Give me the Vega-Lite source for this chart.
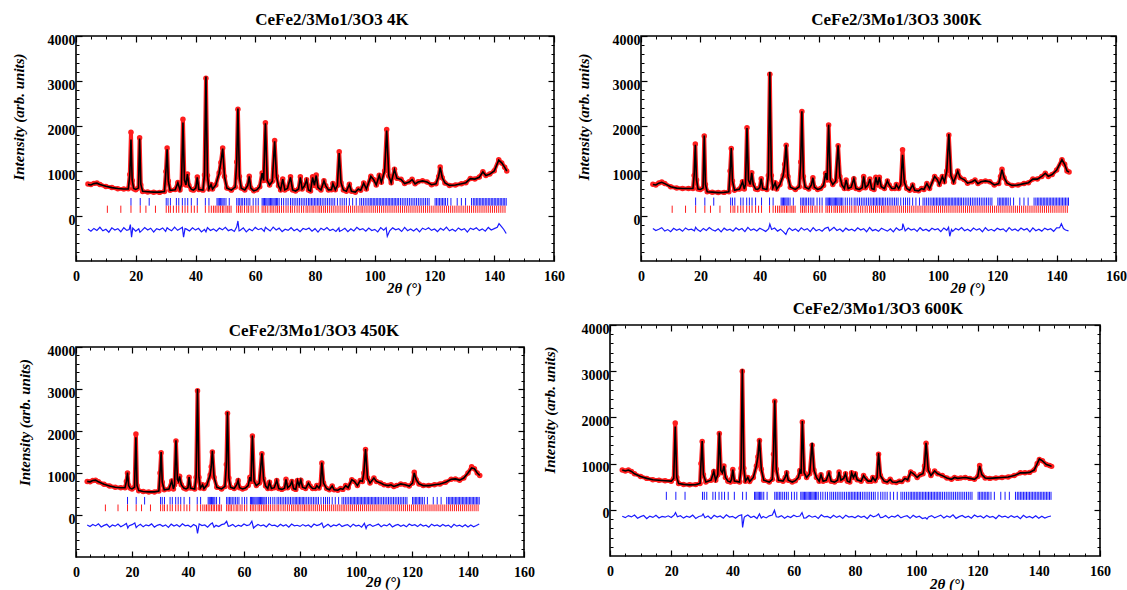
{
"$schema":"https://vega.github.io/schema/vega-lite/v6.json",
"background":"white",
"padding":{"left":10,"top":10,"right":5,"bottom":5},
"config":{"view":{"stroke":"black","strokeWidth":1.6},"font":"Liberation Serif"},
"datasets":{
"p4":[{"x":4,"o":710,"c":700},{"x":5,"o":700,"c":690},{"x":6,"o":725,"c":720},{"x":7,"o":735,"c":730},{"x":8,"o":700,"c":700},{"x":10,"o":655,"c":660},{"x":12,"o":635,"c":630},{"x":14,"o":605,"c":610},{"x":16,"o":600,"c":600},{"x":17.5,"o":605,"c":600},{"x":18,"o":920,"c":900},{"x":18.4,"o":1860,"c":1700},{"x":18.8,"o":790,"c":800},{"x":19.3,"o":605,"c":610},{"x":20,"o":585,"c":590},{"x":20.9,"o":620,"c":620},{"x":21.3,"o":1740,"c":1720},{"x":21.7,"o":690,"c":700},{"x":22.3,"o":545,"c":550},{"x":24,"o":535,"c":540},{"x":26,"o":530,"c":530},{"x":28,"o":525,"c":530},{"x":29.6,"o":545,"c":545},{"x":30.1,"o":990,"c":1000},{"x":30.5,"o":1510,"c":1480},{"x":30.9,"o":780,"c":780},{"x":31.5,"o":570,"c":570},{"x":33.2,"o":590,"c":585},{"x":34.1,"o":745,"c":740},{"x":34.8,"o":580,"c":580},{"x":35.3,"o":700,"c":700},{"x":35.8,"o":2150,"c":2080},{"x":36.3,"o":800,"c":800},{"x":36.8,"o":690,"c":690},{"x":37.3,"o":935,"c":930},{"x":37.8,"o":680,"c":680},{"x":38.6,"o":590,"c":590},{"x":39.3,"o":575,"c":575},{"x":40.1,"o":620,"c":620},{"x":40.6,"o":865,"c":860},{"x":41.1,"o":590,"c":590},{"x":42.5,"o":575,"c":575},{"x":43,"o":910,"c":900},{"x":43.5,"o":3060,"c":3100},{"x":44,"o":900,"c":900},{"x":44.5,"o":600,"c":600},{"x":45.2,"o":700,"c":700},{"x":45.7,"o":600,"c":600},{"x":46.8,"o":690,"c":690},{"x":47.9,"o":955,"c":950},{"x":48.5,"o":1190,"c":1200},{"x":49.1,"o":1510,"c":1500},{"x":49.7,"o":880,"c":880},{"x":50.5,"o":620,"c":620},{"x":52,"o":575,"c":575},{"x":53.3,"o":645,"c":640},{"x":53.8,"o":1200,"c":1200},{"x":54.2,"o":2370,"c":2390},{"x":54.7,"o":880,"c":880},{"x":55.3,"o":620,"c":620},{"x":56.5,"o":580,"c":580},{"x":57.5,"o":680,"c":680},{"x":58,"o":885,"c":880},{"x":58.5,"o":620,"c":620},{"x":59.5,"o":560,"c":560},{"x":60.5,"o":585,"c":580},{"x":61.5,"o":650,"c":650},{"x":62.3,"o":955,"c":950},{"x":62.8,"o":790,"c":790},{"x":63.4,"o":2070,"c":2060},{"x":64,"o":790,"c":790},{"x":64.8,"o":690,"c":690},{"x":65.7,"o":770,"c":770},{"x":66.5,"o":1680,"c":1660},{"x":67.1,"o":880,"c":880},{"x":67.8,"o":670,"c":670},{"x":68.5,"o":580,"c":580},{"x":69.2,"o":825,"c":820},{"x":69.9,"o":580,"c":580},{"x":70.8,"o":610,"c":610},{"x":71.8,"o":870,"c":860},{"x":72.5,"o":580,"c":580},{"x":73.5,"o":555,"c":555},{"x":74.5,"o":600,"c":600},{"x":75.1,"o":870,"c":860},{"x":75.7,"o":600,"c":600},{"x":76.5,"o":670,"c":670},{"x":77.2,"o":805,"c":800},{"x":77.8,"o":580,"c":580},{"x":78.5,"o":555,"c":555},{"x":79.2,"o":870,"c":860},{"x":79.8,"o":680,"c":680},{"x":80.4,"o":910,"c":900},{"x":81,"o":630,"c":630},{"x":82,"o":580,"c":580},{"x":83,"o":785,"c":780},{"x":83.6,"o":670,"c":670},{"x":84.5,"o":580,"c":580},{"x":85.5,"o":585,"c":585},{"x":86,"o":725,"c":720},{"x":86.8,"o":585,"c":585},{"x":87.5,"o":680,"c":680},{"x":88.1,"o":1430,"c":1400},{"x":88.7,"o":740,"c":740},{"x":89.5,"o":580,"c":580},{"x":90.5,"o":550,"c":550},{"x":91.5,"o":705,"c":700},{"x":92.2,"o":550,"c":550},{"x":93.5,"o":530,"c":530},{"x":94.5,"o":600,"c":600},{"x":95.3,"o":570,"c":570},{"x":96.3,"o":735,"c":730},{"x":97.2,"o":600,"c":600},{"x":98.7,"o":885,"c":880},{"x":99.6,"o":810,"c":810},{"x":100.5,"o":690,"c":690},{"x":101.5,"o":905,"c":900},{"x":102.2,"o":750,"c":750},{"x":103.3,"o":1000,"c":1000},{"x":104,"o":1920,"c":1900},{"x":104.7,"o":890,"c":890},{"x":105.5,"o":740,"c":740},{"x":106.6,"o":1040,"c":1030},{"x":107.4,"o":840,"c":840},{"x":108.8,"o":815,"c":810},{"x":110,"o":720,"c":720},{"x":111.5,"o":760,"c":755},{"x":112.5,"o":815,"c":810},{"x":113.5,"o":715,"c":715},{"x":114.5,"o":760,"c":755},{"x":116,"o":785,"c":780},{"x":117.5,"o":755,"c":755},{"x":119,"o":695,"c":695},{"x":120.5,"o":715,"c":715},{"x":121.4,"o":880,"c":880},{"x":121.9,"o":1090,"c":1080},{"x":122.6,"o":850,"c":850},{"x":123.5,"o":735,"c":735},{"x":125,"o":680,"c":680},{"x":127,"o":690,"c":690},{"x":129,"o":715,"c":715},{"x":130.5,"o":740,"c":740},{"x":132,"o":835,"c":830},{"x":133.5,"o":820,"c":820},{"x":135,"o":865,"c":860},{"x":136.2,"o":985,"c":980},{"x":137.2,"o":900,"c":900},{"x":138.5,"o":935,"c":930},{"x":140,"o":1005,"c":1000},{"x":141.5,"o":1250,"c":1240},{"x":142.5,"o":1180,"c":1180},{"x":143.5,"o":1085,"c":1080},{"x":144.2,"o":1000,"c":1000}],
"p300":[{"x":4,"o":705,"c":700},{"x":5,"o":690,"c":690},{"x":6,"o":735,"c":730},{"x":7,"o":755,"c":750},{"x":8,"o":720,"c":720},{"x":10,"o":650,"c":650},{"x":12,"o":620,"c":620},{"x":14,"o":610,"c":610},{"x":16,"o":610,"c":610},{"x":17.5,"o":610,"c":610},{"x":17.9,"o":900,"c":900},{"x":18.3,"o":1600,"c":1580},{"x":18.7,"o":800,"c":800},{"x":19.2,"o":600,"c":600},{"x":20,"o":590,"c":590},{"x":20.9,"o":620,"c":620},{"x":21.3,"o":1780,"c":1790},{"x":21.7,"o":700,"c":700},{"x":22.3,"o":540,"c":540},{"x":24,"o":530,"c":530},{"x":26,"o":520,"c":520},{"x":28,"o":525,"c":525},{"x":29.6,"o":540,"c":540},{"x":30,"o":1000,"c":1000},{"x":30.4,"o":1500,"c":1510},{"x":30.8,"o":780,"c":780},{"x":31.5,"o":570,"c":570},{"x":33.2,"o":600,"c":600},{"x":34.2,"o":760,"c":760},{"x":34.8,"o":600,"c":600},{"x":35.2,"o":700,"c":700},{"x":35.7,"o":1960,"c":1955},{"x":36.2,"o":800,"c":800},{"x":36.8,"o":700,"c":700},{"x":37.3,"o":960,"c":960},{"x":37.8,"o":700,"c":700},{"x":38.6,"o":600,"c":600},{"x":39.3,"o":590,"c":590},{"x":40,"o":630,"c":630},{"x":40.5,"o":830,"c":830},{"x":41,"o":610,"c":610},{"x":42.4,"o":590,"c":590},{"x":42.9,"o":900,"c":900},{"x":43.4,"o":3150,"c":3200},{"x":43.9,"o":900,"c":900},{"x":44.4,"o":620,"c":620},{"x":45.2,"o":740,"c":740},{"x":45.7,"o":600,"c":600},{"x":46.8,"o":700,"c":700},{"x":47.9,"o":900,"c":900},{"x":48.4,"o":1150,"c":1150},{"x":48.9,"o":1570,"c":1580},{"x":49.5,"o":880,"c":880},{"x":50.3,"o":640,"c":640},{"x":52,"o":590,"c":590},{"x":53.3,"o":650,"c":650},{"x":53.8,"o":1200,"c":1200},{"x":54.2,"o":2320,"c":2330},{"x":54.7,"o":880,"c":880},{"x":55.3,"o":640,"c":640},{"x":56.5,"o":600,"c":600},{"x":57.4,"o":690,"c":690},{"x":57.9,"o":850,"c":850},{"x":58.4,"o":640,"c":640},{"x":59.5,"o":590,"c":590},{"x":60.5,"o":610,"c":610},{"x":61.5,"o":680,"c":680},{"x":62.2,"o":950,"c":950},{"x":62.7,"o":800,"c":800},{"x":63.2,"o":2020,"c":2030},{"x":63.8,"o":800,"c":800},{"x":64.6,"o":700,"c":700},{"x":65.6,"o":780,"c":780},{"x":66.4,"o":1560,"c":1570},{"x":67,"o":880,"c":880},{"x":67.7,"o":690,"c":690},{"x":68.5,"o":610,"c":610},{"x":69.1,"o":800,"c":800},{"x":69.8,"o":610,"c":610},{"x":70.8,"o":640,"c":640},{"x":71.7,"o":830,"c":830},{"x":72.4,"o":610,"c":610},{"x":73.5,"o":590,"c":590},{"x":74.5,"o":630,"c":630},{"x":75,"o":880,"c":880},{"x":75.6,"o":630,"c":630},{"x":76.5,"o":690,"c":690},{"x":77.1,"o":820,"c":820},{"x":77.7,"o":610,"c":610},{"x":78.5,"o":590,"c":590},{"x":79.1,"o":860,"c":860},{"x":79.7,"o":690,"c":690},{"x":80.3,"o":860,"c":860},{"x":80.9,"o":650,"c":650},{"x":82,"o":610,"c":610},{"x":83,"o":780,"c":780},{"x":83.6,"o":690,"c":690},{"x":84.5,"o":610,"c":610},{"x":85.5,"o":610,"c":610},{"x":86,"o":700,"c":700},{"x":86.8,"o":610,"c":610},{"x":87.5,"o":700,"c":700},{"x":88.1,"o":1470,"c":1360},{"x":88.7,"o":750,"c":750},{"x":89.5,"o":610,"c":610},{"x":90.5,"o":570,"c":570},{"x":91.5,"o":690,"c":690},{"x":92.2,"o":570,"c":570},{"x":93.5,"o":560,"c":560},{"x":94.5,"o":610,"c":610},{"x":95.3,"o":590,"c":590},{"x":96.3,"o":720,"c":720},{"x":97.2,"o":610,"c":610},{"x":98.9,"o":880,"c":880},{"x":99.8,"o":810,"c":810},{"x":100.5,"o":700,"c":700},{"x":101.5,"o":880,"c":880},{"x":102.2,"o":760,"c":760},{"x":103,"o":1000,"c":1000},{"x":103.7,"o":1800,"c":1820},{"x":104.4,"o":900,"c":900},{"x":105.3,"o":750,"c":750},{"x":106.7,"o":1000,"c":1000},{"x":107.5,"o":850,"c":850},{"x":108.8,"o":810,"c":810},{"x":110,"o":730,"c":730},{"x":111.5,"o":760,"c":760},{"x":112.5,"o":800,"c":800},{"x":113.5,"o":720,"c":720},{"x":114.5,"o":760,"c":760},{"x":116,"o":780,"c":780},{"x":117.5,"o":760,"c":760},{"x":119,"o":690,"c":690},{"x":120.5,"o":720,"c":720},{"x":121.1,"o":880,"c":880},{"x":121.6,"o":1040,"c":1030},{"x":122.3,"o":850,"c":850},{"x":123.3,"o":730,"c":730},{"x":125,"o":680,"c":680},{"x":127,"o":690,"c":690},{"x":129,"o":720,"c":720},{"x":130.5,"o":740,"c":740},{"x":132,"o":820,"c":820},{"x":133.5,"o":820,"c":820},{"x":135,"o":880,"c":880},{"x":136.2,"o":950,"c":950},{"x":137.2,"o":880,"c":880},{"x":138.5,"o":920,"c":920},{"x":140,"o":1020,"c":1020},{"x":141.8,"o":1250,"c":1250},{"x":142.7,"o":1150,"c":1150},{"x":143.5,"o":1000,"c":1000},{"x":144.2,"o":980,"c":980}],
"p450":[{"x":4,"o":800,"c":800},{"x":5,"o":790,"c":790},{"x":6,"o":820,"c":820},{"x":7,"o":830,"c":830},{"x":8,"o":790,"c":790},{"x":10,"o":730,"c":730},{"x":12,"o":690,"c":690},{"x":14,"o":660,"c":660},{"x":16,"o":650,"c":650},{"x":17.5,"o":650,"c":650},{"x":18,"o":800,"c":800},{"x":18.4,"o":1000,"c":1010},{"x":18.8,"o":700,"c":700},{"x":19.3,"o":640,"c":640},{"x":20,"o":620,"c":620},{"x":20.9,"o":660,"c":660},{"x":21.4,"o":1930,"c":1850},{"x":21.8,"o":700,"c":700},{"x":22.4,"o":580,"c":580},{"x":24,"o":560,"c":560},{"x":26,"o":550,"c":550},{"x":28,"o":550,"c":550},{"x":29.6,"o":570,"c":570},{"x":30,"o":1000,"c":1000},{"x":30.4,"o":1480,"c":1500},{"x":30.8,"o":780,"c":780},{"x":31.5,"o":600,"c":600},{"x":33.2,"o":620,"c":620},{"x":34.2,"o":810,"c":810},{"x":34.8,"o":620,"c":620},{"x":35.2,"o":720,"c":720},{"x":35.7,"o":1760,"c":1780},{"x":36.2,"o":850,"c":850},{"x":36.6,"o":800,"c":800},{"x":37,"o":920,"c":920},{"x":37.6,"o":720,"c":720},{"x":38.5,"o":640,"c":640},{"x":39.3,"o":620,"c":620},{"x":40,"o":650,"c":650},{"x":40.4,"o":900,"c":900},{"x":40.9,"o":640,"c":640},{"x":42.4,"o":620,"c":620},{"x":42.9,"o":900,"c":900},{"x":43.4,"o":2960,"c":3000},{"x":43.9,"o":900,"c":900},{"x":44.4,"o":640,"c":640},{"x":45.2,"o":720,"c":720},{"x":45.7,"o":630,"c":630},{"x":46.8,"o":720,"c":720},{"x":47.9,"o":950,"c":950},{"x":48.3,"o":1150,"c":1150},{"x":48.7,"o":1500,"c":1530},{"x":49.3,"o":900,"c":900},{"x":50.3,"o":660,"c":660},{"x":52,"o":620,"c":620},{"x":53.2,"o":680,"c":680},{"x":53.7,"o":1200,"c":1200},{"x":54.1,"o":2420,"c":2450},{"x":54.6,"o":880,"c":880},{"x":55.2,"o":660,"c":660},{"x":56.5,"o":630,"c":630},{"x":57.4,"o":720,"c":720},{"x":57.9,"o":820,"c":820},{"x":58.4,"o":650,"c":650},{"x":59.5,"o":620,"c":620},{"x":60.5,"o":640,"c":640},{"x":61.5,"o":700,"c":700},{"x":62.1,"o":900,"c":900},{"x":62.5,"o":800,"c":800},{"x":63,"o":1880,"c":1890},{"x":63.6,"o":800,"c":800},{"x":64.4,"o":700,"c":700},{"x":65.5,"o":760,"c":760},{"x":66.4,"o":1460,"c":1470},{"x":67,"o":860,"c":860},{"x":67.7,"o":690,"c":690},{"x":68.5,"o":630,"c":630},{"x":69.1,"o":780,"c":780},{"x":69.8,"o":630,"c":630},{"x":70.8,"o":650,"c":650},{"x":71.7,"o":820,"c":820},{"x":72.4,"o":630,"c":630},{"x":73.5,"o":610,"c":610},{"x":74.5,"o":640,"c":640},{"x":75,"o":850,"c":850},{"x":75.6,"o":650,"c":650},{"x":76.5,"o":700,"c":700},{"x":77.1,"o":800,"c":800},{"x":77.7,"o":630,"c":630},{"x":78.5,"o":610,"c":610},{"x":79.1,"o":820,"c":820},{"x":79.7,"o":700,"c":700},{"x":80.3,"o":830,"c":830},{"x":80.9,"o":660,"c":660},{"x":82,"o":630,"c":630},{"x":83,"o":760,"c":760},{"x":83.6,"o":690,"c":690},{"x":84.5,"o":630,"c":630},{"x":85.5,"o":630,"c":630},{"x":86,"o":700,"c":700},{"x":86.8,"o":640,"c":640},{"x":87.3,"o":720,"c":720},{"x":87.8,"o":1240,"c":1250},{"x":88.4,"o":760,"c":760},{"x":89.5,"o":630,"c":630},{"x":90.5,"o":600,"c":600},{"x":91.5,"o":690,"c":690},{"x":92.2,"o":600,"c":600},{"x":93.5,"o":590,"c":590},{"x":94.5,"o":630,"c":630},{"x":95.3,"o":610,"c":610},{"x":96.3,"o":700,"c":700},{"x":97.2,"o":650,"c":650},{"x":98.5,"o":840,"c":840},{"x":99.4,"o":800,"c":800},{"x":100.5,"o":700,"c":700},{"x":101.5,"o":820,"c":820},{"x":102.3,"o":800,"c":800},{"x":102.8,"o":1000,"c":1000},{"x":103.4,"o":1560,"c":1570},{"x":104.1,"o":880,"c":880},{"x":105,"o":760,"c":760},{"x":106.4,"o":880,"c":880},{"x":107.3,"o":800,"c":800},{"x":108.8,"o":760,"c":760},{"x":110,"o":720,"c":720},{"x":111.5,"o":700,"c":700},{"x":112.5,"o":720,"c":720},{"x":113.5,"o":680,"c":680},{"x":114.5,"o":700,"c":700},{"x":116,"o":740,"c":740},{"x":117.5,"o":720,"c":720},{"x":119,"o":690,"c":690},{"x":120.2,"o":760,"c":760},{"x":120.8,"o":1020,"c":1000},{"x":121.5,"o":840,"c":840},{"x":122.5,"o":740,"c":740},{"x":124,"o":700,"c":700},{"x":126,"o":700,"c":700},{"x":128,"o":720,"c":720},{"x":130,"o":740,"c":740},{"x":132,"o":780,"c":780},{"x":134,"o":850,"c":850},{"x":135.5,"o":860,"c":860},{"x":137,"o":830,"c":830},{"x":138.5,"o":880,"c":880},{"x":140,"o":1000,"c":1000},{"x":141.3,"o":1150,"c":1120},{"x":142.3,"o":1100,"c":1100},{"x":143.3,"o":1000,"c":1000},{"x":144.2,"o":940,"c":940}],
"p600":[{"x":4,"o":860,"c":860},{"x":5,"o":840,"c":840},{"x":6,"o":860,"c":860},{"x":7,"o":830,"c":830},{"x":8,"o":780,"c":780},{"x":10,"o":720,"c":720},{"x":12,"o":680,"c":680},{"x":14,"o":650,"c":650},{"x":16,"o":640,"c":640},{"x":18,"o":630,"c":630},{"x":20,"o":620,"c":620},{"x":20.8,"o":680,"c":680},{"x":21.3,"o":1880,"c":1800},{"x":21.8,"o":700,"c":700},{"x":22.4,"o":570,"c":570},{"x":24,"o":550,"c":550},{"x":26,"o":540,"c":540},{"x":28,"o":545,"c":545},{"x":29.4,"o":570,"c":570},{"x":29.7,"o":1000,"c":1000},{"x":30.1,"o":1480,"c":1490},{"x":30.5,"o":760,"c":760},{"x":31.3,"o":600,"c":600},{"x":33,"o":640,"c":640},{"x":33.9,"o":830,"c":830},{"x":34.5,"o":640,"c":640},{"x":35.2,"o":760,"c":760},{"x":35.7,"o":1650,"c":1670},{"x":36.2,"o":850,"c":850},{"x":36.7,"o":800,"c":800},{"x":37.2,"o":950,"c":950},{"x":37.7,"o":700,"c":700},{"x":38.5,"o":620,"c":620},{"x":39.3,"o":600,"c":600},{"x":39.7,"o":660,"c":660},{"x":40.1,"o":870,"c":870},{"x":40.6,"o":620,"c":620},{"x":42.3,"o":600,"c":600},{"x":42.8,"o":900,"c":900},{"x":43.2,"o":3000,"c":3040},{"x":43.7,"o":900,"c":900},{"x":44.2,"o":620,"c":620},{"x":45,"o":700,"c":700},{"x":45.6,"o":610,"c":610},{"x":46.8,"o":700,"c":700},{"x":47.8,"o":950,"c":950},{"x":48.3,"o":1150,"c":1150},{"x":48.8,"o":1500,"c":1520},{"x":49.4,"o":880,"c":880},{"x":50.2,"o":640,"c":640},{"x":52,"o":600,"c":600},{"x":53,"o":660,"c":660},{"x":53.4,"o":1200,"c":1200},{"x":53.8,"o":2350,"c":2370},{"x":54.3,"o":880,"c":880},{"x":55,"o":640,"c":640},{"x":56.5,"o":620,"c":620},{"x":57.2,"o":700,"c":700},{"x":57.7,"o":800,"c":800},{"x":58.2,"o":640,"c":640},{"x":59.5,"o":600,"c":600},{"x":60.5,"o":630,"c":630},{"x":61.5,"o":700,"c":700},{"x":62,"o":850,"c":850},{"x":62.4,"o":780,"c":780},{"x":62.8,"o":1900,"c":1920},{"x":63.4,"o":800,"c":800},{"x":64.2,"o":700,"c":700},{"x":65.2,"o":780,"c":780},{"x":66,"o":1400,"c":1450},{"x":66.6,"o":860,"c":860},{"x":67.4,"o":700,"c":700},{"x":68.3,"o":620,"c":620},{"x":68.9,"o":760,"c":760},{"x":69.6,"o":620,"c":620},{"x":70.6,"o":640,"c":640},{"x":71.5,"o":800,"c":800},{"x":72.2,"o":620,"c":620},{"x":73.3,"o":600,"c":600},{"x":74.3,"o":640,"c":640},{"x":74.8,"o":820,"c":820},{"x":75.4,"o":640,"c":640},{"x":76.3,"o":680,"c":680},{"x":76.9,"o":780,"c":780},{"x":77.5,"o":620,"c":620},{"x":78.3,"o":600,"c":600},{"x":78.9,"o":800,"c":800},{"x":79.5,"o":700,"c":700},{"x":80.1,"o":780,"c":780},{"x":80.7,"o":650,"c":650},{"x":82,"o":620,"c":620},{"x":82.8,"o":740,"c":740},{"x":83.4,"o":680,"c":680},{"x":84.3,"o":620,"c":620},{"x":85.3,"o":620,"c":620},{"x":85.8,"o":700,"c":700},{"x":86.6,"o":630,"c":630},{"x":87.2,"o":700,"c":700},{"x":87.7,"o":1200,"c":1230},{"x":88.3,"o":740,"c":740},{"x":89.5,"o":620,"c":620},{"x":90.5,"o":600,"c":600},{"x":91.5,"o":660,"c":660},{"x":92.2,"o":600,"c":600},{"x":93.5,"o":590,"c":590},{"x":94.5,"o":620,"c":620},{"x":95.3,"o":610,"c":610},{"x":96.3,"o":680,"c":680},{"x":97.2,"o":650,"c":650},{"x":98.2,"o":820,"c":820},{"x":99.1,"o":780,"c":780},{"x":100.3,"o":700,"c":700},{"x":101.3,"o":760,"c":760},{"x":102.2,"o":780,"c":780},{"x":102.7,"o":950,"c":950},{"x":103.2,"o":1440,"c":1450},{"x":103.9,"o":860,"c":860},{"x":104.8,"o":740,"c":740},{"x":106,"o":840,"c":840},{"x":107,"o":780,"c":780},{"x":108.5,"o":740,"c":740},{"x":110,"o":690,"c":690},{"x":111.5,"o":660,"c":660},{"x":112.5,"o":700,"c":700},{"x":113.5,"o":680,"c":680},{"x":114.5,"o":690,"c":690},{"x":116,"o":700,"c":700},{"x":117.5,"o":680,"c":680},{"x":119,"o":660,"c":660},{"x":120.1,"o":720,"c":720},{"x":120.7,"o":960,"c":950},{"x":121.4,"o":760,"c":760},{"x":122.5,"o":690,"c":690},{"x":124,"o":680,"c":680},{"x":126,"o":690,"c":690},{"x":128,"o":700,"c":700},{"x":130,"o":710,"c":710},{"x":132,"o":740,"c":740},{"x":134,"o":800,"c":800},{"x":135.5,"o":800,"c":800},{"x":137,"o":810,"c":810},{"x":138.5,"o":860,"c":860},{"x":139.5,"o":1000,"c":1000},{"x":140.2,"o":1090,"c":1100},{"x":141.2,"o":1060,"c":1060},{"x":142.5,"o":980,"c":980},{"x":143.5,"o":960,"c":960},{"x":144.2,"o":940,"c":940}],
"d4":[{"x":4,"d":-290},{"x":5,"d":-340},{"x":6,"d":-276},{"x":7,"d":-320},{"x":8,"d":-250},{"x":9,"d":-330},{"x":10,"d":-294},{"x":11,"d":-360},{"x":12,"d":-264},{"x":13,"d":-310},{"x":14,"d":-280},{"x":15,"d":-350},{"x":16,"d":-260},{"x":17,"d":-320},{"x":17.8,"d":-300},{"x":18.2,"d":-190},{"x":18.6,"d":-470},{"x":19,"d":-270},{"x":20,"d":-336},{"x":21,"d":-284},{"x":21.4,"d":-360},{"x":22,"d":-324},{"x":23,"d":-256},{"x":24,"d":-312},{"x":25,"d":-272},{"x":26,"d":-356},{"x":27,"d":-282},{"x":28,"d":-306},{"x":29,"d":-266},{"x":30,"d":-342},{"x":30.5,"d":-260},{"x":31,"d":-288},{"x":32,"d":-328},{"x":33,"d":-248},{"x":34,"d":-318},{"x":35,"d":-278},{"x":35.6,"d":-250},{"x":36,"d":-470},{"x":36.5,"d":-280},{"x":37,"d":-292},{"x":38,"d":-332},{"x":39,"d":-262},{"x":40,"d":-314},{"x":41,"d":-274},{"x":42,"d":-354},{"x":43,"d":-296},{"x":43.5,"d":-350},{"x":44,"d":-258},{"x":45,"d":-322},{"x":46,"d":-286},{"x":47,"d":-338},{"x":48,"d":-268},{"x":49,"d":-308},{"x":50,"d":-252},{"x":51,"d":-326},{"x":52,"d":-298},{"x":53,"d":-344},{"x":53.8,"d":-240},{"x":54.2,"d":-110},{"x":54.6,"d":-330},{"x":55,"d":-316},{"x":56,"d":-264},{"x":57,"d":-352},{"x":58,"d":-290},{"x":59,"d":-330},{"x":60,"d":-254},{"x":61,"d":-304},{"x":62,"d":-276},{"x":63,"d":-340},{"x":63.4,"d":-250},{"x":64,"d":-284},{"x":65,"d":-334},{"x":66,"d":-246},{"x":67,"d":-312},{"x":68,"d":-270},{"x":69,"d":-346},{"x":70,"d":-294},{"x":71,"d":-320},{"x":72,"d":-260},{"x":73,"d":-328},{"x":74,"d":-288},{"x":75,"d":-350},{"x":76,"d":-278},{"x":77,"d":-302},{"x":78,"d":-266},{"x":79,"d":-336},{"x":80,"d":-282},{"x":81,"d":-358},{"x":82,"d":-272},{"x":83,"d":-310},{"x":84,"d":-256},{"x":85,"d":-324},{"x":86,"d":-292},{"x":87,"d":-342},{"x":88,"d":-262},{"x":88.2,"d":-340},{"x":89,"d":-318},{"x":90,"d":-274},{"x":91,"d":-348},{"x":92,"d":-286},{"x":93,"d":-332},{"x":94,"d":-250},{"x":95,"d":-306},{"x":96,"d":-280},{"x":97,"d":-338},{"x":98,"d":-268},{"x":99,"d":-322},{"x":100,"d":-296},{"x":101,"d":-354},{"x":102,"d":-258},{"x":103,"d":-314},{"x":103.8,"d":-260},{"x":104.2,"d":-450},{"x":105,"d":-330},{"x":106,"d":-264},{"x":107,"d":-308},{"x":108,"d":-284},{"x":109,"d":-344},{"x":110,"d":-252},{"x":111,"d":-326},{"x":112,"d":-290},{"x":113,"d":-334},{"x":114,"d":-278},{"x":115,"d":-352},{"x":116,"d":-270},{"x":117,"d":-304},{"x":118,"d":-260},{"x":119,"d":-320},{"x":120,"d":-288},{"x":121,"d":-346},{"x":122,"d":-274},{"x":123,"d":-316},{"x":124,"d":-248},{"x":125,"d":-328},{"x":126,"d":-294},{"x":127,"d":-340},{"x":128,"d":-266},{"x":129,"d":-312},{"x":130,"d":-282},{"x":131,"d":-356},{"x":132,"d":-272},{"x":133,"d":-302},{"x":134,"d":-262},{"x":135,"d":-324},{"x":136,"d":-286},{"x":137,"d":-336},{"x":138,"d":-254},{"x":139,"d":-310},{"x":140,"d":-280},{"x":141,"d":-250},{"x":141.6,"d":-170},{"x":142.5,"d":-240},{"x":143.2,"d":-300},{"x":144,"d":-390}],
"d300":[{"x":4,"d":-280},{"x":5,"d":-324},{"x":6,"d":-296},{"x":7,"d":-260},{"x":8,"d":-336},{"x":9,"d":-302},{"x":10,"d":-350},{"x":11,"d":-274},{"x":12,"d":-318},{"x":13,"d":-288},{"x":14,"d":-340},{"x":15,"d":-266},{"x":16,"d":-310},{"x":17,"d":-292},{"x":18,"d":-330},{"x":18.4,"d":-250},{"x":19,"d":-300},{"x":20,"d":-344},{"x":21,"d":-276},{"x":22,"d":-322},{"x":23,"d":-258},{"x":24,"d":-306},{"x":25,"d":-334},{"x":26,"d":-284},{"x":27,"d":-352},{"x":28,"d":-270},{"x":29,"d":-316},{"x":30,"d":-294},{"x":31,"d":-338},{"x":32,"d":-262},{"x":33,"d":-312},{"x":34,"d":-278},{"x":35,"d":-348},{"x":36,"d":-254},{"x":37,"d":-320},{"x":38,"d":-290},{"x":39,"d":-332},{"x":40,"d":-272},{"x":41,"d":-304},{"x":42,"d":-342},{"x":43,"d":-280},{"x":43.4,"d":-180},{"x":44,"d":-300},{"x":45,"d":-268},{"x":46,"d":-336},{"x":47,"d":-292},{"x":48,"d":-354},{"x":48.8,"d":-410},{"x":49.5,"d":-300},{"x":50,"d":-266},{"x":51,"d":-324},{"x":52,"d":-286},{"x":53,"d":-340},{"x":54,"d":-264},{"x":55,"d":-314},{"x":56,"d":-282},{"x":57,"d":-348},{"x":58,"d":-258},{"x":59,"d":-328},{"x":60,"d":-296},{"x":61,"d":-338},{"x":62,"d":-274},{"x":63,"d":-250},{"x":63.5,"d":-330},{"x":64,"d":-306},{"x":65,"d":-252},{"x":66,"d":-322},{"x":67,"d":-288},{"x":68,"d":-346},{"x":69,"d":-270},{"x":70,"d":-318},{"x":71,"d":-294},{"x":72,"d":-332},{"x":73,"d":-264},{"x":74,"d":-310},{"x":75,"d":-280},{"x":76,"d":-350},{"x":77,"d":-256},{"x":78,"d":-326},{"x":79,"d":-298},{"x":80,"d":-340},{"x":81,"d":-272},{"x":82,"d":-304},{"x":83,"d":-336},{"x":84,"d":-284},{"x":85,"d":-354},{"x":86,"d":-262},{"x":87,"d":-316},{"x":88,"d":-292},{"x":88.2,"d":-170},{"x":89,"d":-330},{"x":90,"d":-268},{"x":91,"d":-312},{"x":92,"d":-286},{"x":93,"d":-344},{"x":94,"d":-260},{"x":95,"d":-322},{"x":96,"d":-294},{"x":97,"d":-336},{"x":98,"d":-274},{"x":99,"d":-308},{"x":100,"d":-284},{"x":101,"d":-348},{"x":102,"d":-266},{"x":103,"d":-318},{"x":103.6,"d":-250},{"x":104,"d":-450},{"x":104.6,"d":-300},{"x":105,"d":-342},{"x":106,"d":-278},{"x":107,"d":-310},{"x":108,"d":-256},{"x":109,"d":-328},{"x":110,"d":-292},{"x":111,"d":-338},{"x":112,"d":-268},{"x":113,"d":-314},{"x":114,"d":-282},{"x":115,"d":-350},{"x":116,"d":-260},{"x":117,"d":-324},{"x":118,"d":-296},{"x":119,"d":-334},{"x":120,"d":-272},{"x":121,"d":-306},{"x":122,"d":-286},{"x":123,"d":-346},{"x":124,"d":-258},{"x":125,"d":-320},{"x":126,"d":-290},{"x":127,"d":-332},{"x":128,"d":-266},{"x":129,"d":-312},{"x":130,"d":-280},{"x":131,"d":-352},{"x":132,"d":-264},{"x":133,"d":-326},{"x":134,"d":-294},{"x":135,"d":-336},{"x":136,"d":-270},{"x":137,"d":-308},{"x":138,"d":-284},{"x":139,"d":-340},{"x":140,"d":-262},{"x":141,"d":-260},{"x":141.6,"d":-170},{"x":142.3,"d":-280},{"x":143,"d":-310},{"x":144,"d":-330}],
"d450":[{"x":4,"d":-240},{"x":5,"d":-274},{"x":6,"d":-226},{"x":7,"d":-260},{"x":8,"d":-210},{"x":9,"d":-286},{"x":10,"d":-248},{"x":11,"d":-222},{"x":12,"d":-292},{"x":13,"d":-238},{"x":14,"d":-266},{"x":15,"d":-216},{"x":16,"d":-280},{"x":17,"d":-244},{"x":18,"d":-200},{"x":18.5,"d":-310},{"x":19,"d":-254},{"x":20,"d":-230},{"x":21,"d":-190},{"x":21.5,"d":-300},{"x":22,"d":-264},{"x":23,"d":-220},{"x":24,"d":-282},{"x":25,"d":-234},{"x":26,"d":-258},{"x":27,"d":-212},{"x":28,"d":-288},{"x":29,"d":-246},{"x":30,"d":-224},{"x":31,"d":-270},{"x":32,"d":-236},{"x":33,"d":-294},{"x":34,"d":-218},{"x":35,"d":-262},{"x":36,"d":-232},{"x":37,"d":-278},{"x":38,"d":-208},{"x":39,"d":-256},{"x":40,"d":-242},{"x":41,"d":-284},{"x":42,"d":-228},{"x":43,"d":-266},{"x":43.4,"d":-440},{"x":44,"d":-214},{"x":45,"d":-252},{"x":46,"d":-238},{"x":47,"d":-290},{"x":48,"d":-222},{"x":48.7,"d":-190},{"x":49.3,"d":-290},{"x":50,"d":-246},{"x":51,"d":-276},{"x":52,"d":-230},{"x":53,"d":-212},{"x":53.8,"d":-150},{"x":54.4,"d":-270},{"x":55,"d":-258},{"x":56,"d":-226},{"x":57,"d":-282},{"x":58,"d":-240},{"x":59,"d":-268},{"x":60,"d":-216},{"x":61,"d":-250},{"x":62,"d":-234},{"x":62.8,"d":-150},{"x":63.4,"d":-310},{"x":64,"d":-274},{"x":65,"d":-224},{"x":66,"d":-260},{"x":67,"d":-236},{"x":68,"d":-286},{"x":69,"d":-210},{"x":70,"d":-254},{"x":71,"d":-242},{"x":72,"d":-278},{"x":73,"d":-220},{"x":74,"d":-264},{"x":75,"d":-232},{"x":76,"d":-288},{"x":77,"d":-216},{"x":78,"d":-256},{"x":79,"d":-244},{"x":80,"d":-272},{"x":81,"d":-228},{"x":82,"d":-262},{"x":83,"d":-238},{"x":84,"d":-292},{"x":85,"d":-214},{"x":86,"d":-250},{"x":87,"d":-230},{"x":87.8,"d":-190},{"x":88.4,"d":-300},{"x":89,"d":-266},{"x":90,"d":-222},{"x":91,"d":-280},{"x":92,"d":-236},{"x":93,"d":-258},{"x":94,"d":-212},{"x":95,"d":-274},{"x":96,"d":-246},{"x":97,"d":-228},{"x":98,"d":-284},{"x":99,"d":-218},{"x":100,"d":-262},{"x":101,"d":-240},{"x":102,"d":-290},{"x":103,"d":-200},{"x":103.6,"d":-320},{"x":104,"d":-254},{"x":105,"d":-226},{"x":106,"d":-272},{"x":107,"d":-244},{"x":108,"d":-216},{"x":109,"d":-278},{"x":110,"d":-234},{"x":111,"d":-260},{"x":112,"d":-208},{"x":113,"d":-286},{"x":114,"d":-248},{"x":115,"d":-224},{"x":116,"d":-268},{"x":117,"d":-238},{"x":118,"d":-282},{"x":119,"d":-214},{"x":120,"d":-252},{"x":121,"d":-232},{"x":122,"d":-276},{"x":123,"d":-222},{"x":124,"d":-264},{"x":125,"d":-242},{"x":126,"d":-290},{"x":127,"d":-218},{"x":128,"d":-256},{"x":129,"d":-236},{"x":130,"d":-274},{"x":131,"d":-226},{"x":132,"d":-262},{"x":133,"d":-240},{"x":134,"d":-294},{"x":135,"d":-220},{"x":136,"d":-266},{"x":137,"d":-244},{"x":138,"d":-278},{"x":139,"d":-230},{"x":140,"d":-284},{"x":141,"d":-238},{"x":142,"d":-280},{"x":143,"d":-250},{"x":144,"d":-214}],
"d600":[{"x":4,"d":-140},{"x":5,"d":-170},{"x":6,"d":-126},{"x":7,"d":-154},{"x":8,"d":-112},{"x":9,"d":-182},{"x":10,"d":-148},{"x":11,"d":-124},{"x":12,"d":-190},{"x":13,"d":-136},{"x":14,"d":-164},{"x":15,"d":-118},{"x":16,"d":-176},{"x":17,"d":-142},{"x":18,"d":-160},{"x":19,"d":-130},{"x":20,"d":-166},{"x":21,"d":-110},{"x":21.4,"d":-60},{"x":22,"d":-150},{"x":23,"d":-128},{"x":24,"d":-180},{"x":25,"d":-138},{"x":26,"d":-162},{"x":27,"d":-116},{"x":28,"d":-186},{"x":29,"d":-144},{"x":30,"d":-130},{"x":30.4,"d":-90},{"x":31,"d":-170},{"x":32,"d":-134},{"x":33,"d":-192},{"x":34,"d":-120},{"x":35,"d":-158},{"x":36,"d":-132},{"x":37,"d":-180},{"x":38,"d":-110},{"x":39,"d":-156},{"x":40,"d":-142},{"x":41,"d":-184},{"x":42,"d":-128},{"x":43,"d":-110},{"x":43.3,"d":-380},{"x":43.8,"d":-170},{"x":44,"d":-150},{"x":45,"d":-114},{"x":46,"d":-168},{"x":47,"d":-138},{"x":48,"d":-190},{"x":48.8,"d":-90},{"x":49.4,"d":-180},{"x":50,"d":-146},{"x":51,"d":-176},{"x":52,"d":-130},{"x":53,"d":-112},{"x":53.7,"d":-10},{"x":54.3,"d":-150},{"x":55,"d":-158},{"x":56,"d":-126},{"x":57,"d":-182},{"x":58,"d":-140},{"x":59,"d":-168},{"x":60,"d":-116},{"x":61,"d":-150},{"x":62,"d":-134},{"x":62.7,"d":-60},{"x":63.3,"d":-180},{"x":64,"d":-174},{"x":65,"d":-124},{"x":66,"d":-160},{"x":67,"d":-136},{"x":68,"d":-186},{"x":69,"d":-110},{"x":70,"d":-154},{"x":71,"d":-142},{"x":72,"d":-178},{"x":73,"d":-120},{"x":74,"d":-164},{"x":75,"d":-132},{"x":76,"d":-188},{"x":77,"d":-116},{"x":78,"d":-156},{"x":79,"d":-144},{"x":80,"d":-172},{"x":81,"d":-128},{"x":82,"d":-162},{"x":83,"d":-138},{"x":84,"d":-192},{"x":85,"d":-114},{"x":86,"d":-150},{"x":87,"d":-130},{"x":87.7,"d":-90},{"x":88.3,"d":-170},{"x":89,"d":-166},{"x":90,"d":-122},{"x":91,"d":-180},{"x":92,"d":-136},{"x":93,"d":-158},{"x":94,"d":-112},{"x":95,"d":-174},{"x":96,"d":-146},{"x":97,"d":-128},{"x":98,"d":-184},{"x":99,"d":-118},{"x":100,"d":-162},{"x":101,"d":-140},{"x":102,"d":-190},{"x":103,"d":-170},{"x":103.5,"d":-200},{"x":104,"d":-154},{"x":105,"d":-126},{"x":106,"d":-172},{"x":107,"d":-144},{"x":108,"d":-116},{"x":109,"d":-178},{"x":110,"d":-134},{"x":111,"d":-160},{"x":112,"d":-108},{"x":113,"d":-186},{"x":114,"d":-148},{"x":115,"d":-124},{"x":116,"d":-168},{"x":117,"d":-138},{"x":118,"d":-182},{"x":119,"d":-114},{"x":120,"d":-152},{"x":121,"d":-132},{"x":122,"d":-176},{"x":123,"d":-122},{"x":124,"d":-164},{"x":125,"d":-142},{"x":126,"d":-190},{"x":127,"d":-118},{"x":128,"d":-156},{"x":129,"d":-136},{"x":130,"d":-174},{"x":131,"d":-126},{"x":132,"d":-162},{"x":133,"d":-140},{"x":134,"d":-194},{"x":135,"d":-120},{"x":136,"d":-166},{"x":137,"d":-144},{"x":138,"d":-178},{"x":139,"d":-130},{"x":140,"d":-184},{"x":141,"d":-138},{"x":142,"d":-180},{"x":143,"d":-150},{"x":144,"d":-134}],
"bb":[{"x":18.4},{"x":21.5},{"x":24.5},{"x":30.2},{"x":30.8},{"x":31.6},{"x":33.6},{"x":34.4},{"x":35.6},{"x":36.5},{"x":37.4},{"x":38.6},{"x":40.6},{"x":43.3},{"x":44.5},{"x":47.2},{"x":47.6},{"x":48.0},{"x":48.4},{"x":48.8},{"x":49.2},{"x":49.6},{"x":50.2},{"x":51.3},{"x":53.8},{"x":54.3},{"x":54.8},{"x":55.3},{"x":55.8},{"x":56.4},{"x":57.0},{"x":57.6},{"x":58.2},{"x":59.3},{"x":60.2},{"x":61.0},{"x":62.3},{"x":62.7},{"x":63.1},{"x":63.5},{"x":63.9},{"x":64.3},{"x":64.7},{"x":65.1},{"x":65.5},{"x":65.9},{"x":66.3},{"x":66.7},{"x":67.1},{"x":67.5},{"x":68.0},{"x":68.8},{"x":69.5},{"x":70.3},{"x":71.0},{"x":71.8},{"x":72.4},{"x":73.0},{"x":73.6},{"x":74.2},{"x":74.8},{"x":75.4},{"x":76.0},{"x":76.6},{"x":77.2},{"x":77.8},{"x":78.3},{"x":78.8},{"x":79.3},{"x":79.8},{"x":80.3},{"x":80.8},{"x":81.3},{"x":81.8},{"x":82.4},{"x":83.0},{"x":83.6},{"x":84.2},{"x":84.8},{"x":85.4},{"x":86.0},{"x":86.6},{"x":87.5},{"x":88.4},{"x":89.1},{"x":89.8},{"x":90.5},{"x":91.5},{"x":92.6},{"x":93.8},{"x":95.0},{"x":95.6},{"x":96.2},{"x":96.8},{"x":97.4},{"x":98.0},{"x":98.5},{"x":99.0},{"x":99.5},{"x":100.0},{"x":100.5},{"x":101.0},{"x":101.5},{"x":102.0},{"x":102.5},{"x":103.0},{"x":103.5},{"x":104.0},{"x":104.5},{"x":105.0},{"x":105.5},{"x":106.0},{"x":106.5},{"x":107.0},{"x":107.5},{"x":108.0},{"x":108.6},{"x":109.2},{"x":109.8},{"x":110.4},{"x":111.0},{"x":111.6},{"x":112.2},{"x":112.8},{"x":113.4},{"x":114.0},{"x":114.6},{"x":115.2},{"x":115.8},{"x":116.4},{"x":117.0},{"x":117.6},{"x":118.2},{"x":120.2},{"x":120.7},{"x":121.2},{"x":121.7},{"x":122.2},{"x":122.7},{"x":123.2},{"x":123.7},{"x":124.4},{"x":125.5},{"x":127.6},{"x":129.0},{"x":130.4},{"x":132.4},{"x":133.0},{"x":133.5},{"x":134.0},{"x":134.5},{"x":135.0},{"x":135.5},{"x":136.0},{"x":136.5},{"x":137.0},{"x":137.5},{"x":138.0},{"x":138.5},{"x":139.0},{"x":139.5},{"x":140.0},{"x":140.5},{"x":141.0},{"x":141.5},{"x":142.0},{"x":142.5},{"x":143.0},{"x":143.5},{"x":144.0}],
"br":[{"x":10.5},{"x":15.0},{"x":18.4},{"x":21.5},{"x":23.4},{"x":26.6},{"x":30.2},{"x":31.0},{"x":31.6},{"x":32.6},{"x":33.6},{"x":34.4},{"x":35.6},{"x":36.5},{"x":37.4},{"x":38.6},{"x":39.6},{"x":40.6},{"x":43.3},{"x":44.5},{"x":45.3},{"x":46.0},{"x":46.6},{"x":47.2},{"x":47.8},{"x":48.4},{"x":49.0},{"x":49.5},{"x":50.2},{"x":50.8},{"x":51.3},{"x":51.9},{"x":53.8},{"x":54.4},{"x":55.0},{"x":55.6},{"x":56.4},{"x":57.2},{"x":57.8},{"x":58.6},{"x":59.3},{"x":60.2},{"x":61.0},{"x":62.3},{"x":62.9},{"x":63.5},{"x":64.2},{"x":65.0},{"x":65.6},{"x":66.2},{"x":66.9},{"x":67.5},{"x":68.1},{"x":68.8},{"x":69.5},{"x":70.3},{"x":71.0},{"x":71.8},{"x":72.4},{"x":73.2},{"x":74.0},{"x":74.7},{"x":75.5},{"x":76.2},{"x":77.0},{"x":77.6},{"x":78.3},{"x":79.0},{"x":79.6},{"x":80.3},{"x":81.0},{"x":81.6},{"x":82.2},{"x":82.9},{"x":83.5},{"x":84.2},{"x":84.9},{"x":85.6},{"x":86.3},{"x":87.0},{"x":87.7},{"x":88.4},{"x":89.1},{"x":89.8},{"x":90.5},{"x":91.2},{"x":91.9},{"x":92.6},{"x":93.3},{"x":94.0},{"x":94.7},{"x":95.4},{"x":96.0},{"x":96.7},{"x":97.4},{"x":98.1},{"x":98.8},{"x":99.5},{"x":100.2},{"x":100.9},{"x":101.6},{"x":102.3},{"x":103.0},{"x":103.7},{"x":104.4},{"x":105.1},{"x":105.8},{"x":106.5},{"x":107.2},{"x":107.9},{"x":108.6},{"x":109.3},{"x":110.0},{"x":110.7},{"x":111.4},{"x":112.1},{"x":112.8},{"x":113.5},{"x":114.2},{"x":114.9},{"x":115.6},{"x":116.3},{"x":117.0},{"x":117.7},{"x":118.4},{"x":119.1},{"x":119.8},{"x":120.5},{"x":121.2},{"x":121.9},{"x":122.6},{"x":123.3},{"x":124.0},{"x":124.7},{"x":125.4},{"x":126.1},{"x":126.8},{"x":127.5},{"x":128.2},{"x":128.9},{"x":129.6},{"x":130.3},{"x":131.0},{"x":131.7},{"x":132.4},{"x":133.1},{"x":133.8},{"x":134.5},{"x":135.2},{"x":135.9},{"x":136.6},{"x":137.3},{"x":138.0},{"x":138.7},{"x":139.4},{"x":140.1},{"x":140.8},{"x":141.5},{"x":142.2},{"x":142.9},{"x":143.6}]
},
"vconcat":[
{"hconcat":[
{"width":478,"height":225,
"title":{"text":"CeFe2/3Mo1/3O3 4K","font":"Liberation Serif","fontSize":17,"fontWeight":"bold","color":"black","anchor":"middle","dx":17,"offset":4,"frame":"group"},
"layer":[
{"data":{"name":"p4"},"mark":{"type":"line","color":"#ff1e1e","strokeWidth":4,"strokeJoin":"round"},
"encoding":{"x":{"field":"x","type":"quantitative","scale":{"domain":[0,160],"nice":false,"zero":false},"axis":{"orient":"bottom","values":[0,20,40,60,80,100,120,140,160],"domain":false,"grid":false,"tickSize":-6,"tickColor":"black","tickWidth":1.2,"labelFont":"Liberation Serif","labelFontWeight":"bold","labelFontSize":14,"labelColor":"black","labelPadding":14,"labelBaseline":"top","labelFlush":false,"labelOverlap":false,"title":"2θ (°)","titleFont":"Liberation Serif","titleFontStyle":"italic","titleFontWeight":"bold","titleFontSize":15,"titleColor":"black","titleX":328,"titleY":26,"titleBaseline":"middle","titleAlign":"center"}},
"y":{"field":"o","type":"quantitative","scale":{"domain":[-1000,4000],"nice":false,"zero":false},"axis":{"orient":"left","values":[0,1000,2000,3000,4000],"format":"d","domain":false,"grid":false,"tickSize":-6,"tickColor":"black","tickWidth":1.2,"labelFont":"Liberation Serif","labelFontWeight":"bold","labelFontSize":14,"labelColor":"black","labelPadding":7,"labelOffset":4,"labelOverlap":false,"labelFlush":false,"title":"Intensity (arb. units)","titleFont":"Liberation Serif","titleFontStyle":"italic","titleFontWeight":"bold","titleFontSize":15,"titleColor":"black","titleX":-57.5,"titleY":80.5,"titleBaseline":"middle","titleAlign":"center","titleAngle":270}}}},
{"data":{"name":"p4"},"mark":{"type":"circle","color":"#ff1e1e","size":30,"opacity":1},
"encoding":{"x":{"field":"x","type":"quantitative","scale":{"domain":[0,160],"nice":false,"zero":false},"axis":{"orient":"top","values":[0,20,40,60,80,100,120,140,160],"domain":false,"grid":false,"labels":false,"tickSize":-6,"tickColor":"black","tickWidth":1.2,"title":null}},
"y":{"field":"o","type":"quantitative","scale":{"domain":[-1000,4000],"nice":false,"zero":false},"axis":{"orient":"right","values":[0,1000,2000,3000,4000],"domain":false,"grid":false,"labels":false,"tickSize":-6,"tickColor":"black","tickWidth":1.2,"title":null}}}},
{"data":{"name":"bb"},"mark":{"type":"rule","color":"#1a1aff","strokeWidth":1},
"encoding":{"x":{"field":"x","type":"quantitative","scale":{"domain":[0,160],"nice":false,"zero":false},"axis":null},"y":{"datum":230,"type":"quantitative","scale":{"domain":[-1000,4000],"nice":false,"zero":false},"axis":null},"y2":{"datum":400}}},
{"data":{"name":"br"},"mark":{"type":"rule","color":"#ff1e1e","strokeWidth":1},
"encoding":{"x":{"field":"x","type":"quantitative","scale":{"domain":[0,160],"nice":false,"zero":false},"axis":null},"y":{"datum":70,"type":"quantitative","scale":{"domain":[-1000,4000],"nice":false,"zero":false},"axis":null},"y2":{"datum":230}}},
{"data":{"name":"p4"},"mark":{"type":"line","color":"black","strokeWidth":1.6},
"encoding":{"x":{"field":"x","type":"quantitative","scale":{"domain":[0,160],"nice":false,"zero":false},"axis":{"orient":"bottom","values":[5,10,15,25,30,35,45,50,55,65,70,75,85,90,95,105,110,115,125,130,135,145,150,155],"domain":false,"grid":false,"labels":false,"tickSize":-3,"tickColor":"black","tickWidth":1,"title":null}},
"y":{"field":"c","type":"quantitative","scale":{"domain":[-1000,4000],"nice":false,"zero":false},"axis":{"orient":"left","values":[-800,-600,-400,-200,200,400,600,800,1200,1400,1600,1800,2200,2400,2600,2800,3200,3400,3600,3800],"domain":false,"grid":false,"labels":false,"tickSize":-3,"tickColor":"black","tickWidth":1,"title":null}}}},
{"data":{"name":"d4"},"mark":{"type":"line","color":"#1a1aff","strokeWidth":1.2},
"encoding":{"x":{"field":"x","type":"quantitative","scale":{"domain":[0,160],"nice":false,"zero":false},"axis":{"orient":"top","values":[5,10,15,25,30,35,45,50,55,65,70,75,85,90,95,105,110,115,125,130,135,145,150,155],"domain":false,"grid":false,"labels":false,"tickSize":-3,"tickColor":"black","tickWidth":1,"title":null}},
"y":{"field":"d","type":"quantitative","scale":{"domain":[-1000,4000],"nice":false,"zero":false},"axis":{"orient":"right","values":[-800,-600,-400,-200,200,400,600,800,1200,1400,1600,1800,2200,2400,2600,2800,3200,3400,3600,3800],"domain":false,"grid":false,"labels":false,"tickSize":-3,"tickColor":"black","tickWidth":1,"title":null}}}}
],
"resolve":{"axis":{"x":"independent","y":"independent"}}},
{"width":475,"height":225,
"title":{"text":"CeFe2/3Mo1/3O3 300K","font":"Liberation Serif","fontSize":17,"fontWeight":"bold","color":"black","anchor":"middle","dx":18,"offset":4,"frame":"group"},
"layer":[
{"data":{"name":"p300"},"mark":{"type":"line","color":"#ff1e1e","strokeWidth":4,"strokeJoin":"round"},
"encoding":{"x":{"field":"x","type":"quantitative","scale":{"domain":[0,160],"nice":false,"zero":false},"axis":{"orient":"bottom","values":[0,20,40,60,80,100,120,140,160],"domain":false,"grid":false,"tickSize":-6,"tickColor":"black","tickWidth":1.2,"labelFont":"Liberation Serif","labelFontWeight":"bold","labelFontSize":14,"labelColor":"black","labelPadding":14,"labelBaseline":"top","labelFlush":false,"labelOverlap":false,"title":"2θ (°)","titleFont":"Liberation Serif","titleFontStyle":"italic","titleFontWeight":"bold","titleFontSize":15,"titleColor":"black","titleX":326.5,"titleY":26,"titleBaseline":"middle","titleAlign":"center"}},
"y":{"field":"o","type":"quantitative","scale":{"domain":[-1000,4000],"nice":false,"zero":false},"axis":{"orient":"left","values":[0,1000,2000,3000,4000],"format":"d","domain":false,"grid":false,"tickSize":-6,"tickColor":"black","tickWidth":1.2,"labelFont":"Liberation Serif","labelFontWeight":"bold","labelFontSize":14,"labelColor":"black","labelPadding":7,"labelOffset":4,"labelOverlap":false,"labelFlush":false,"title":"Intensity (arb. units)","titleFont":"Liberation Serif","titleFontStyle":"italic","titleFontWeight":"bold","titleFontSize":15,"titleColor":"black","titleX":-58,"titleY":80.5,"titleBaseline":"middle","titleAlign":"center","titleAngle":270}}}},
{"data":{"name":"p300"},"mark":{"type":"circle","color":"#ff1e1e","size":30,"opacity":1},
"encoding":{"x":{"field":"x","type":"quantitative","scale":{"domain":[0,160],"nice":false,"zero":false},"axis":{"orient":"top","values":[0,20,40,60,80,100,120,140,160],"domain":false,"grid":false,"labels":false,"tickSize":-6,"tickColor":"black","tickWidth":1.2,"title":null}},
"y":{"field":"o","type":"quantitative","scale":{"domain":[-1000,4000],"nice":false,"zero":false},"axis":{"orient":"right","values":[0,1000,2000,3000,4000],"domain":false,"grid":false,"labels":false,"tickSize":-6,"tickColor":"black","tickWidth":1.2,"title":null}}}},
{"data":{"name":"bb"},"mark":{"type":"rule","color":"#1a1aff","strokeWidth":1},
"encoding":{"x":{"field":"x","type":"quantitative","scale":{"domain":[0,160],"nice":false,"zero":false},"axis":null},"y":{"datum":230,"type":"quantitative","scale":{"domain":[-1000,4000],"nice":false,"zero":false},"axis":null},"y2":{"datum":410}}},
{"data":{"name":"br"},"mark":{"type":"rule","color":"#ff1e1e","strokeWidth":1},
"encoding":{"x":{"field":"x","type":"quantitative","scale":{"domain":[0,160],"nice":false,"zero":false},"axis":null},"y":{"datum":70,"type":"quantitative","scale":{"domain":[-1000,4000],"nice":false,"zero":false},"axis":null},"y2":{"datum":230}}},
{"data":{"name":"p300"},"mark":{"type":"line","color":"black","strokeWidth":1.6},
"encoding":{"x":{"field":"x","type":"quantitative","scale":{"domain":[0,160],"nice":false,"zero":false},"axis":{"orient":"bottom","values":[5,10,15,25,30,35,45,50,55,65,70,75,85,90,95,105,110,115,125,130,135,145,150,155],"domain":false,"grid":false,"labels":false,"tickSize":-3,"tickColor":"black","tickWidth":1,"title":null}},
"y":{"field":"c","type":"quantitative","scale":{"domain":[-1000,4000],"nice":false,"zero":false},"axis":{"orient":"left","values":[-800,-600,-400,-200,200,400,600,800,1200,1400,1600,1800,2200,2400,2600,2800,3200,3400,3600,3800],"domain":false,"grid":false,"labels":false,"tickSize":-3,"tickColor":"black","tickWidth":1,"title":null}}}},
{"data":{"name":"d300"},"mark":{"type":"line","color":"#1a1aff","strokeWidth":1.2},
"encoding":{"x":{"field":"x","type":"quantitative","scale":{"domain":[0,160],"nice":false,"zero":false},"axis":{"orient":"top","values":[5,10,15,25,30,35,45,50,55,65,70,75,85,90,95,105,110,115,125,130,135,145,150,155],"domain":false,"grid":false,"labels":false,"tickSize":-3,"tickColor":"black","tickWidth":1,"title":null}},
"y":{"field":"d","type":"quantitative","scale":{"domain":[-1000,4000],"nice":false,"zero":false},"axis":{"orient":"right","values":[-800,-600,-400,-200,200,400,600,800,1200,1400,1600,1800,2200,2400,2600,2800,3200,3400,3600,3800],"domain":false,"grid":false,"labels":false,"tickSize":-3,"tickColor":"black","tickWidth":1,"title":null}}}}
],
"resolve":{"axis":{"x":"independent","y":"independent"}}}
],"spacing":9},
{"hconcat":[
{"vconcat":[
{"width":10,"height":1,"data":{"values":[]},"mark":"point","view":{"stroke":null,"fill":"transparent"}},
{"width":448,"height":210,
"title":{"text":"CeFe2/3Mo1/3O3 450K","font":"Liberation Serif","fontSize":17,"fontWeight":"bold","color":"black","anchor":"middle","dx":14,"offset":4,"frame":"group"},
"layer":[
{"data":{"name":"p450"},"mark":{"type":"line","color":"#ff1e1e","strokeWidth":4,"strokeJoin":"round"},
"encoding":{"x":{"field":"x","type":"quantitative","scale":{"domain":[0,160],"nice":false,"zero":false},"axis":{"orient":"bottom","values":[0,20,40,60,80,100,120,140,160],"domain":false,"grid":false,"tickSize":-6,"tickColor":"black","tickWidth":1.2,"labelFont":"Liberation Serif","labelFontWeight":"bold","labelFontSize":14,"labelColor":"black","labelPadding":14,"labelBaseline":"top","labelFlush":false,"labelOverlap":false,"title":"2θ (°)","titleFont":"Liberation Serif","titleFontStyle":"italic","titleFontWeight":"bold","titleFontSize":15,"titleColor":"black","titleX":307,"titleY":24,"titleBaseline":"middle","titleAlign":"center"}},
"y":{"field":"o","type":"quantitative","scale":{"domain":[-1000,4000],"nice":false,"zero":false},"axis":{"orient":"left","values":[0,1000,2000,3000,4000],"format":"d","domain":false,"grid":false,"tickSize":-6,"tickColor":"black","tickWidth":1.2,"labelFont":"Liberation Serif","labelFontWeight":"bold","labelFontSize":14,"labelColor":"black","labelPadding":7,"labelOffset":4,"labelOverlap":false,"labelFlush":false,"title":"Intensity (arb. units)","titleFont":"Liberation Serif","titleFontStyle":"italic","titleFontWeight":"bold","titleFontSize":15,"titleColor":"black","titleX":-52,"titleY":75,"titleBaseline":"middle","titleAlign":"center","titleAngle":270}}}},
{"data":{"name":"p450"},"mark":{"type":"circle","color":"#ff1e1e","size":30,"opacity":1},
"encoding":{"x":{"field":"x","type":"quantitative","scale":{"domain":[0,160],"nice":false,"zero":false},"axis":{"orient":"top","values":[0,20,40,60,80,100,120,140,160],"domain":false,"grid":false,"labels":false,"tickSize":-6,"tickColor":"black","tickWidth":1.2,"title":null}},
"y":{"field":"o","type":"quantitative","scale":{"domain":[-1000,4000],"nice":false,"zero":false},"axis":{"orient":"right","values":[0,1000,2000,3000,4000],"domain":false,"grid":false,"labels":false,"tickSize":-6,"tickColor":"black","tickWidth":1.2,"title":null}}}},
{"data":{"name":"bb"},"mark":{"type":"rule","color":"#1a1aff","strokeWidth":1},
"encoding":{"x":{"field":"x","type":"quantitative","scale":{"domain":[0,160],"nice":false,"zero":false},"axis":null},"y":{"datum":250,"type":"quantitative","scale":{"domain":[-1000,4000],"nice":false,"zero":false},"axis":null},"y2":{"datum":430}}},
{"data":{"name":"br"},"mark":{"type":"rule","color":"#ff1e1e","strokeWidth":1},
"encoding":{"x":{"field":"x","type":"quantitative","scale":{"domain":[0,160],"nice":false,"zero":false},"axis":null},"y":{"datum":90,"type":"quantitative","scale":{"domain":[-1000,4000],"nice":false,"zero":false},"axis":null},"y2":{"datum":250}}},
{"data":{"name":"p450"},"mark":{"type":"line","color":"black","strokeWidth":1.6},
"encoding":{"x":{"field":"x","type":"quantitative","scale":{"domain":[0,160],"nice":false,"zero":false},"axis":{"orient":"bottom","values":[5,10,15,25,30,35,45,50,55,65,70,75,85,90,95,105,110,115,125,130,135,145,150,155],"domain":false,"grid":false,"labels":false,"tickSize":-3,"tickColor":"black","tickWidth":1,"title":null}},
"y":{"field":"c","type":"quantitative","scale":{"domain":[-1000,4000],"nice":false,"zero":false},"axis":{"orient":"left","values":[-800,-600,-400,-200,200,400,600,800,1200,1400,1600,1800,2200,2400,2600,2800,3200,3400,3600,3800],"domain":false,"grid":false,"labels":false,"tickSize":-3,"tickColor":"black","tickWidth":1,"title":null}}}},
{"data":{"name":"d450"},"mark":{"type":"line","color":"#1a1aff","strokeWidth":1.2},
"encoding":{"x":{"field":"x","type":"quantitative","scale":{"domain":[0,160],"nice":false,"zero":false},"axis":{"orient":"top","values":[5,10,15,25,30,35,45,50,55,65,70,75,85,90,95,105,110,115,125,130,135,145,150,155],"domain":false,"grid":false,"labels":false,"tickSize":-3,"tickColor":"black","tickWidth":1,"title":null}},
"y":{"field":"d","type":"quantitative","scale":{"domain":[-1000,4000],"nice":false,"zero":false},"axis":{"orient":"right","values":[-800,-600,-400,-200,200,400,600,800,1200,1400,1600,1800,2200,2400,2600,2800,3200,3400,3600,3800],"domain":false,"grid":false,"labels":false,"tickSize":-3,"tickColor":"black","tickWidth":1,"title":null}}}}
],
"resolve":{"axis":{"x":"independent","y":"independent"}}}
],"spacing":-5},
{"width":490,"height":231,
"title":{"text":"CeFe2/3Mo1/3O3 600K","font":"Liberation Serif","fontSize":17,"fontWeight":"bold","color":"black","anchor":"middle","dx":23,"offset":4,"frame":"group"},
"layer":[
{"data":{"name":"p600"},"mark":{"type":"line","color":"#ff1e1e","strokeWidth":4,"strokeJoin":"round"},
"encoding":{"x":{"field":"x","type":"quantitative","scale":{"domain":[0,160],"nice":false,"zero":false},"axis":{"orient":"bottom","values":[0,20,40,60,80,100,120,140,160],"domain":false,"grid":false,"tickSize":-6,"tickColor":"black","tickWidth":1.2,"labelFont":"Liberation Serif","labelFontWeight":"bold","labelFontSize":14,"labelColor":"black","labelPadding":14,"labelBaseline":"top","labelFlush":false,"labelOverlap":false,"title":"2θ (°)","titleFont":"Liberation Serif","titleFontStyle":"italic","titleFontWeight":"bold","titleFontSize":15,"titleColor":"black","titleX":337,"titleY":27,"titleBaseline":"middle","titleAlign":"center"}},
"y":{"field":"o","type":"quantitative","scale":{"domain":[-1000,4000],"nice":false,"zero":false},"axis":{"orient":"left","values":[0,1000,2000,3000,4000],"format":"d","domain":false,"grid":false,"tickSize":-6,"tickColor":"black","tickWidth":1.2,"labelFont":"Liberation Serif","labelFontWeight":"bold","labelFontSize":14,"labelColor":"black","labelPadding":7,"labelOffset":4,"labelOverlap":false,"labelFlush":false,"title":"Intensity (arb. units)","titleFont":"Liberation Serif","titleFontStyle":"italic","titleFontWeight":"bold","titleFontSize":15,"titleColor":"black","titleX":-60.5,"titleY":84.5,"titleBaseline":"middle","titleAlign":"center","titleAngle":270}}}},
{"data":{"name":"p600"},"mark":{"type":"circle","color":"#ff1e1e","size":30,"opacity":1},
"encoding":{"x":{"field":"x","type":"quantitative","scale":{"domain":[0,160],"nice":false,"zero":false},"axis":{"orient":"top","values":[0,20,40,60,80,100,120,140,160],"domain":false,"grid":false,"labels":false,"tickSize":-6,"tickColor":"black","tickWidth":1.2,"title":null}},
"y":{"field":"o","type":"quantitative","scale":{"domain":[-1000,4000],"nice":false,"zero":false},"axis":{"orient":"right","values":[0,1000,2000,3000,4000],"domain":false,"grid":false,"labels":false,"tickSize":-6,"tickColor":"black","tickWidth":1.2,"title":null}}}},
{"data":{"name":"bb"},"mark":{"type":"rule","color":"#1a1aff","strokeWidth":1},
"encoding":{"x":{"field":"x","type":"quantitative","scale":{"domain":[0,160],"nice":false,"zero":false},"axis":null},"y":{"datum":215,"type":"quantitative","scale":{"domain":[-1000,4000],"nice":false,"zero":false},"axis":null},"y2":{"datum":390}}},
{"data":{"name":"p600"},"mark":{"type":"line","color":"black","strokeWidth":1.6},
"encoding":{"x":{"field":"x","type":"quantitative","scale":{"domain":[0,160],"nice":false,"zero":false},"axis":{"orient":"bottom","values":[5,10,15,25,30,35,45,50,55,65,70,75,85,90,95,105,110,115,125,130,135,145,150,155],"domain":false,"grid":false,"labels":false,"tickSize":-3,"tickColor":"black","tickWidth":1,"title":null}},
"y":{"field":"c","type":"quantitative","scale":{"domain":[-1000,4000],"nice":false,"zero":false},"axis":{"orient":"left","values":[-800,-600,-400,-200,200,400,600,800,1200,1400,1600,1800,2200,2400,2600,2800,3200,3400,3600,3800],"domain":false,"grid":false,"labels":false,"tickSize":-3,"tickColor":"black","tickWidth":1,"title":null}}}},
{"data":{"name":"d600"},"mark":{"type":"line","color":"#1a1aff","strokeWidth":1.2},
"encoding":{"x":{"field":"x","type":"quantitative","scale":{"domain":[0,160],"nice":false,"zero":false},"axis":{"orient":"top","values":[5,10,15,25,30,35,45,50,55,65,70,75,85,90,95,105,110,115,125,130,135,145,150,155],"domain":false,"grid":false,"labels":false,"tickSize":-3,"tickColor":"black","tickWidth":1,"title":null}},
"y":{"field":"d","type":"quantitative","scale":{"domain":[-1000,4000],"nice":false,"zero":false},"axis":{"orient":"right","values":[-800,-600,-400,-200,200,400,600,800,1200,1400,1600,1800,2200,2400,2600,2800,3200,3400,3600,3800],"domain":false,"grid":false,"labels":false,"tickSize":-3,"tickColor":"black","tickWidth":1,"title":null}}}}
],
"resolve":{"axis":{"x":"independent","y":"independent"}}}
],"spacing":5}
],"spacing":3}
